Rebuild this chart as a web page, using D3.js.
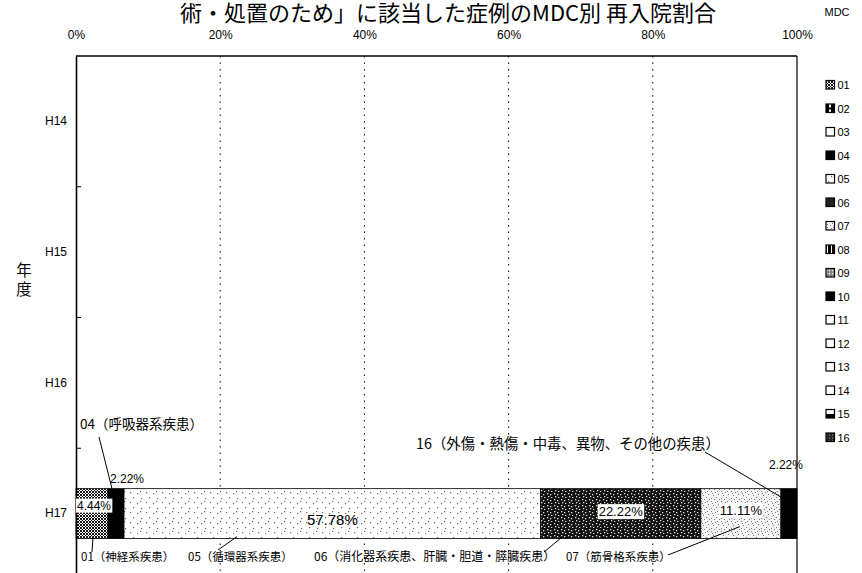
<!DOCTYPE html>
<html><head><meta charset="utf-8">
<script src="https://cdn.jsdelivr.net/npm/d3@7"></script>
<style>
html,body{margin:0;padding:0;background:#fff;}
svg{display:block;}
text{font-family:"Liberation Sans",Arial,sans-serif;fill:#000;}
.jp{font-family:"Noto Sans CJK JP",sans-serif;}
.nar{font-family:"Liberation Sans Narrow","Liberation Sans",Arial,sans-serif;}
</style></head>
<body>
<svg id="c" width="862" height="573"></svg>
<script>
// ---- data ----
const titleText = "術・処置のため」に該当した症例のMDC別 再入院割合";
const yAxisTitle = "年度";
const categories = ["H14", "H15", "H16", "H17"];
const mdcCodes = ["01","02","03","04","05","06","07","08","09","10","11","12","13","14","15","16"];
const xTicks = [0, 20, 40, 60, 80, 100];
// percent per year (H14, H15, H16, H17)
const mdc01 = [0, 0, 0, 4.44];
const mdc04 = [0, 0, 0, 2.22];
const mdc05 = [0, 0, 0, 57.78];
const mdc06 = [0, 0, 0, 22.22];
const mdc07 = [0, 0, 0, 11.11];
const mdc16 = [0, 0, 0, 2.22];
const zeros = [0, 0, 0, 0];
const seriesValues = {
  "01": mdc01, "02": zeros, "03": zeros, "04": mdc04, "05": mdc05, "06": mdc06,
  "07": mdc07, "08": zeros, "09": zeros, "10": zeros, "11": zeros, "12": zeros,
  "13": zeros, "14": zeros, "15": zeros, "16": mdc16
};
const calloutNames = {
  "01": "01（神経系疾患）",
  "04": "04（呼吸器系疾患）",
  "05": "05（循環器系疾患）",
  "06": "06（消化器系疾患、肝臓・胆道・膵臓疾患）",
  "07": "07（筋骨格系疾患）",
  "16": "16（外傷・熱傷・中毒、異物、その他の疾患）"
};

// ---- layout ----
const svg = d3.select("#c");
const M = {left: 76, right: 797, top: 56, bottom: 579};
const x = d3.scaleLinear().domain([0, 100]).range([M.left, M.right]);
const y = d3.scaleBand().domain(categories).range([M.top, M.bottom]).paddingInner(0.618).paddingOuter(0.309);

// ---- patterns ----
const defs = svg.append("defs");
function pat(id, w, h, bg, draw) {
  const p = defs.append("pattern").attr("id", id).attr("patternUnits", "userSpaceOnUse").attr("width", w).attr("height", h);
  p.append("rect").attr("width", w).attr("height", h).attr("fill", bg);
  draw(p);
}
pat("p01", 3, 3, "#fff", p => p.append("path").attr("d", "M0,0L3,3M3,0L0,3").attr("stroke", "#000").attr("stroke-width", 0.9));
pat("p02", 6, 6, "#000", p => p.append("rect").attr("x", 3).attr("y", 1).attr("width", 2).attr("height", 4).attr("fill", "#fff"));
pat("p05", 16, 10, "#fff", p => {
  [[2,2],[9,3],[5,7],[13,8],[12,1]].forEach(([a,b]) => p.append("rect").attr("x", a).attr("y", b).attr("width", 1.2).attr("height", 1.2).attr("fill", "#666"));
});
pat("p06", 7, 6, "#111", p => {
  [[1,1],[4,2],[2,4],[5,5]].forEach(([a,b]) => p.append("rect").attr("x", a).attr("y", b).attr("width", 1.3).attr("height", 1.3).attr("fill", "#ddd"));
});
pat("p07", 10, 10, "#f4f4f4", p => {
  [[1,1],[5,2],[8,4],[3,5],[6,7],[1,8],[9,9],[4,9],[7,1],[2,3]].forEach(([a,b]) => p.append("rect").attr("x", a).attr("y", b).attr("width", 1).attr("height", 1).attr("fill", "#777"));
});
pat("p08", 4, 4, "#000", p => p.append("rect").attr("x", 1).attr("y", 0).attr("width", 1).attr("height", 4).attr("fill", "#fff"));
pat("p09", 3, 3, "#888", p => p.append("rect").attr("width", 1.2).attr("height", 1.2).attr("fill", "#fff"));
pat("p15", 9, 9, "#fff", p => p.append("rect").attr("width", 9).attr("height", 5).attr("fill", "#000"));
pat("p16", 3, 3, "#222", p => p.append("rect").attr("width", 1).attr("height", 1).attr("fill", "#aaa"));
const fills = {
  "01": "url(#p01)", "02": "url(#p02)", "03": "#fff", "04": "#000", "05": "url(#p05)", "06": "url(#p06)",
  "07": "url(#p07)", "08": "url(#p08)", "09": "url(#p09)", "10": "#000", "11": "#fff", "12": "#fff",
  "13": "#fff", "14": "#fff", "15": "url(#p15)", "16": "#000"
};
const legendFills = Object.assign({}, fills, {"16": "url(#p16)", "06": "#222"});

// ---- title ----
svg.append("text").attr("class", "jp").attr("x", 716).attr("y", 21).attr("text-anchor", "end")
  .attr("font-size", 22).text(titleText);

// ---- gridlines ----
svg.append("g").selectAll("line").data(xTicks.filter(t => t > 0 && t < 100)).join("line")
  .attr("x1", d => x(d)).attr("x2", d => x(d)).attr("y1", M.top).attr("y2", M.bottom)
  .attr("stroke", "#000").attr("stroke-width", 1).attr("stroke-dasharray", "1.5,5");

// ---- x axis (top) ----
const xAxis = d3.axisTop(x).tickValues(xTicks).tickFormat(d => d + "%").tickSize(0).tickPadding(17);
const gx = svg.append("g").attr("transform", `translate(0,${M.top})`).call(xAxis);
gx.select(".domain").remove();
gx.selectAll("text").attr("class", "nar").attr("font-size", 12).attr("fill", "#000");

// ---- stacked bars ----
const table = categories.map((c, i) => {
  const row = {year: c};
  mdcCodes.forEach(k => row[k] = seriesValues[k][i]);
  return row;
});
const stack = d3.stack().keys(mdcCodes)(table);
const gBars = svg.append("g");
stack.forEach(layer => {
  gBars.selectAll(null).data(layer.filter(d => d[1] - d[0] > 0)).join("rect")
    .attr("x", d => x(d[0])).attr("width", d => x(d[1]) - x(d[0]))
    .attr("y", d => y(d.data.year)).attr("height", y.bandwidth())
    .attr("fill", fills[layer.key]).attr("stroke", "#000").attr("stroke-width", 0.8);
});

// ---- frame & y axis ----
svg.append("line").attr("x1", M.left).attr("x2", M.right).attr("y1", M.top).attr("y2", M.top).attr("stroke", "#000").attr("stroke-width", 1.5);
svg.append("line").attr("x1", M.right).attr("x2", M.right).attr("y1", M.top).attr("y2", M.bottom).attr("stroke", "#000").attr("stroke-width", 1.2);
const yAxis = d3.axisLeft(y).tickSize(0).tickPadding(9);
const gy = svg.append("g").attr("transform", `translate(${M.left},0)`).call(yAxis);
gy.select(".domain").attr("stroke", "#000").attr("stroke-width", 1.6);
gy.selectAll("text").attr("font-size", 12).attr("fill", "#000");
// inner tick marks at category boundaries
const bounds = categories.slice(1).map(c => y(c) - y.step() * y.paddingInner() / 2);
svg.append("g").selectAll("line").data(bounds).join("line")
  .attr("x1", M.left).attr("x2", M.left + 5).attr("y1", d => d).attr("y2", d => d).attr("stroke", "#000");

// y axis title (vertical)
svg.append("text").attr("class", "jp").attr("x", 24).attr("y", 262)
  .style("writing-mode", "vertical-rl").attr("font-size", 15.5).attr("letter-spacing", 3.5).text(yAxisTitle);

// ---- value labels ----
const lastCat = categories[categories.length - 1];
const yc = y(lastCat) + y.bandwidth() / 2;
const seg = {};
stack.forEach(l => { const d = l[categories.length - 1]; seg[l.key] = [d[0], d[1]]; });
const mid = k => x((seg[k][0] + seg[k][1]) / 2);
const fmt = v => v.toFixed(2) + "%";
function valLabel(k, dx, dy, size, box) {
  const v = seriesValues[k][categories.length - 1];
  const g = svg.append("g");
  const t = g.append("text").attr("x", mid(k) + dx).attr("y", yc + dy).attr("text-anchor", "middle")
    .attr("dominant-baseline", "central").attr("font-size", size).attr("class", "nar").text(fmt(v));
  if (box) {
    const bb = t.node().getBBox();
    g.insert("rect", "text").attr("x", bb.x - 1).attr("y", bb.y).attr("width", bb.width + 2).attr("height", bb.height).attr("fill", "#fff");
  }
}
valLabel("01", 2, -8, 12, true);
valLabel("05", 0, 6, 15, false);
valLabel("06", 0, -2, 13, true);
valLabel("07", 0, -3, 13, true);
// small segments: labels above bar
const barTop = y(lastCat);
svg.append("text").attr("class", "nar").attr("x", x(seg["04"][0]) + 2).attr("y", barTop - 6).attr("font-size", 12).text(fmt(seriesValues["04"][3]));
svg.append("text").attr("class", "nar").attr("x", mid("16") - 3).attr("y", barTop - 20).attr("text-anchor", "middle").attr("font-size", 12).text(fmt(seriesValues["16"][3]));

// ---- callouts ----
const lineAttr = s => s.attr("stroke", "#000").attr("stroke-width", 1).attr("fill", "none");
// 04 above
svg.append("text").attr("class", "jp").attr("x", 80).attr("y", 429).attr("font-size", 13.5).text(calloutNames["04"]);
svg.append("line").call(lineAttr).attr("x1", 99).attr("y1", 437).attr("x2", mid("04") - 4).attr("y2", barTop);
// 16 above
svg.append("text").attr("class", "jp").attr("x", 416).attr("y", 449).attr("font-size", 14.4).text(calloutNames["16"]);
svg.append("line").call(lineAttr).attr("x1", 705).attr("y1", 452).attr("x2", x(seg["16"][0]) + 1).attr("y2", barTop + 9);
// bottom labels
const barBot = y(lastCat) + y.bandwidth();
const botLabels = [
  {k: "01", x: 81, size: 11.5, lx: 92, ly: 552, ex: mid("01") + 1, ey: barBot - 1},
  {k: "05", x: 188, size: 11.5, lx: 218, ly: 550, ex: x(seg["05"][0]) + 113, ey: barBot - 2},
  {k: "06", x: 314, size: 12, lx: 544, ly: 552, ex: x(seg["06"][0]) + 22, ey: barBot - 2},
  {k: "07", x: 566, size: 11.5, lx: 668, ly: 555, ex: mid("07") - 1, ey: barBot - 12}
];
botLabels.forEach(b => {
  svg.append("text").attr("class", "jp").attr("x", b.x).attr("y", 561).attr("font-size", b.size).text(calloutNames[b.k]);
  svg.append("line").call(lineAttr).attr("x1", b.lx).attr("y1", b.ly).attr("x2", b.ex).attr("y2", b.ey);
});

// ---- legend ----
svg.append("text").attr("x", 837).attr("y", 16).attr("text-anchor", "middle").attr("font-size", 11).text("MDC");
const lg = svg.append("g").selectAll("g").data(mdcCodes).join("g")
  .attr("transform", (d, i) => `translate(826,${85 + i * 23.5})`);
lg.append("rect").attr("x", 0).attr("y", -4.5).attr("width", 8.5).attr("height", 8.5)
  .attr("fill", d => legendFills[d]).attr("stroke", "#000").attr("stroke-width", 1.2);
lg.append("text").attr("x", 11.5).attr("y", 0).attr("dominant-baseline", "central").attr("font-size", 11).text(d => d);
</script>
</body></html>
